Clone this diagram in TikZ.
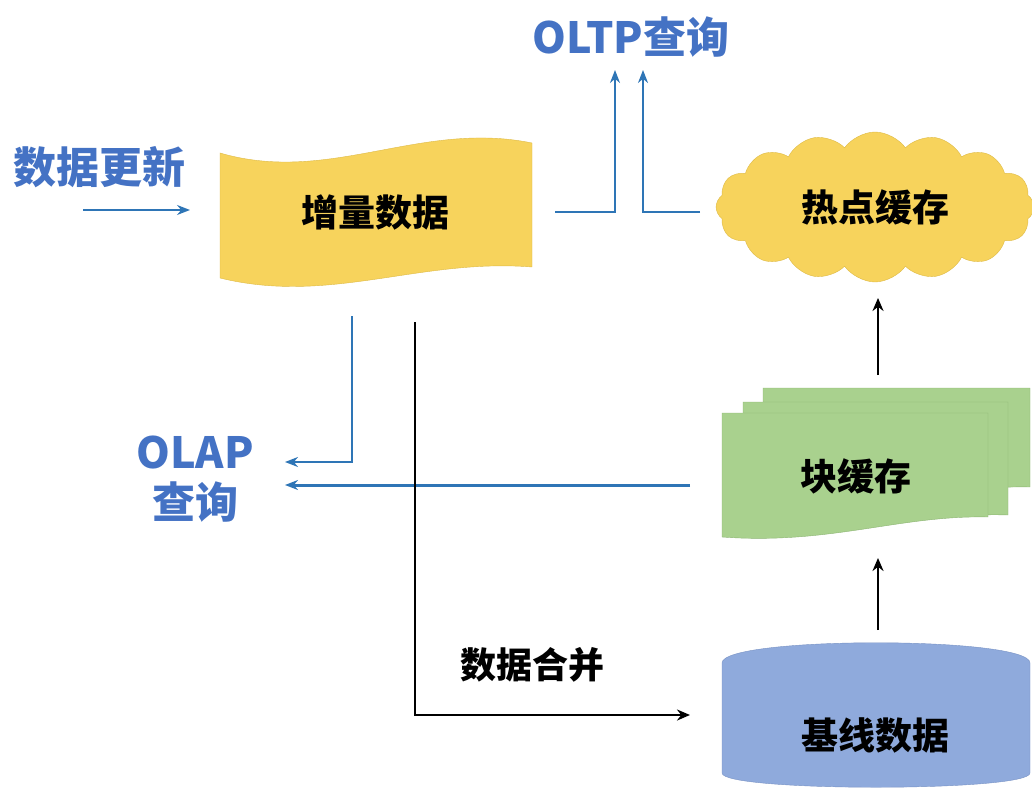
\documentclass[tikz,border=0pt]{standalone}
\usepackage{fontspec}
\newfontfamily\cjk{Noto Sans CJK SC}
\usetikzlibrary{shapes.symbols,arrows.meta}
\definecolor{cyellow}{RGB}{247,211,92}
\definecolor{cyellowd}{RGB}{222,186,70}
\definecolor{cgreen}{RGB}{169,209,142}
\definecolor{cgreend}{RGB}{140,180,115}
\definecolor{cblue}{RGB}{143,170,220}
\definecolor{cblued}{RGB}{120,146,196}
\definecolor{lblue}{RGB}{46,117,182}
\definecolor{tblue}{RGB}{68,114,196}
\begin{document}
\begin{tikzpicture}[x=1pt,y=-1pt]
    \tikzstyle{box text}=[font=\cjk\bfseries\fontsize{37}{40}\selectfont, inner sep=0pt]
    \tikzstyle{blue text}=[text=tblue, font=\cjk\bfseries\fontsize{43}{50}\selectfont, inner sep=0pt, align=center]
    \tikzstyle{blue line}=[draw=lblue, line width=2pt, -{Stealth[length=13pt,width=10pt]}]
    \tikzstyle{black line}=[draw=black, line width=2.2pt, -{Stealth[length=13pt,width=11pt]}]

    \useasboundingbox (0,0) rectangle (1032,799);

    \filldraw[fill=cyellow, draw=cyellowd] (220,153) .. controls (330,185) and (420,120) .. (532,143)
        -- (532,267) .. controls (420,258) and (330,305) .. (220,278) -- cycle;
    \node(n_inc) at (375,212) [box text] {增量数据};

    \node(n_hot) at (875,207) [cloud, cloud puffs=16, cloud puff arc=110, aspect=2,
        fill=cyellow, draw=cyellowd, minimum width=318pt, minimum height=150pt, box text] {热点缓存};

    \filldraw[fill=cgreen, draw=cgreend] (763,388) -- (1030,388) -- (1030,487)
        .. controls (940,485) and (870,515) .. (763,505) -- cycle;
    \filldraw[fill=cgreen, draw=cgreend] (743,402) -- (1008,402) -- (1008,515)
        .. controls (920,512) and (850,540) .. (743,528) -- cycle;
    \filldraw[fill=cgreen, draw=cgreend] (722,413) -- (988,413) -- (988,517)
        .. controls (900,515) and (830,545) .. (722,537) -- cycle;
    \node(n_blk) at (856,476) [box text] {块缓存};

    \filldraw[fill=cblue, draw=cblued] (722,663) .. controls (722,636) and (1030,636) .. (1030,663)
        -- (1030,773) .. controls (1030,792) and (722,792) .. (722,773) -- cycle;
    \node(n_base) at (875,735) [box text] {基线数据};

    \node(n_upd) at (99,167) [blue text] {数据更新};
    \node(n_oltp) at (631,37) [blue text] {OLTP查询};
    \node(n_olap) at (195,479) [blue text] {OLAP\\查询};
    \node(n_mrg) at (532,665) [box text, font=\cjk\bfseries\fontsize{36}{40}\selectfont] {数据合并};

    \coordinate(a_0_b) at (83,210);
    \coordinate(a_0_e) at (190,210);
    \coordinate(a_1_b) at (555,212);
    \coordinate(a_1_e) at (615,70);
    \coordinate(a_2_b) at (700,212);
    \coordinate(a_2_e) at (643,70);
    \coordinate(a_3_b) at (352,316);
    \coordinate(a_3_e) at (285,462);
    \coordinate(a_4_b) at (690,485);
    \coordinate(a_4_e) at (285,485);
    \coordinate(a_5_b) at (415,322);
    \coordinate(a_5_e) at (690,715);
    \coordinate(a_6_b) at (878,375);
    \coordinate(a_6_e) at (878,298);
    \coordinate(a_7_b) at (878,630);
    \coordinate(a_7_e) at (878,558);

    \draw [blue line, line width=1.6pt] (a_0_b) -- (a_0_e);
    \draw [blue line] (a_1_b) -| (a_1_e);
    \draw [blue line] (a_2_b) -| (a_2_e);
    \draw [blue line] (a_3_b) |- (a_3_e);
    \draw [blue line, line width=3pt] (a_4_b) -- (a_4_e);
    \draw [black line] (a_5_b) |- (a_5_e);
    \draw [black line] (a_6_b) -- (a_6_e);
    \draw [black line] (a_7_b) -- (a_7_e);

\end{tikzpicture}
\end{document}
